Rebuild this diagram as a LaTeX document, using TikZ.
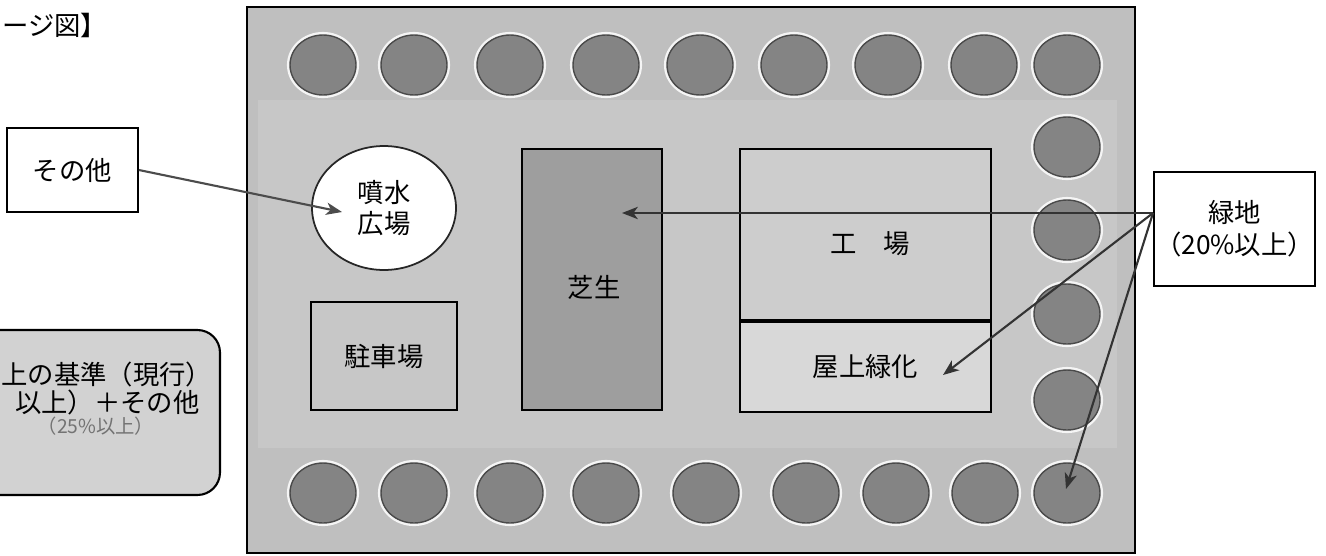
\documentclass[tikz,border=0pt]{standalone}
\usepackage{fontspec}
\setmainfont{Noto Sans CJK JP}
\usetikzlibrary{shapes.geometric,arrows.meta}
\definecolor{outerbg}{HTML}{BFBFBF}
\definecolor{innerbg}{HTML}{C7C7C7}
\definecolor{treefill}{HTML}{848484}
\definecolor{treeedge}{HTML}{4A4A4A}
\definecolor{turffill}{HTML}{9E9E9E}
\definecolor{factfill}{HTML}{CDCDCD}
\definecolor{rooffill}{HTML}{D8D8D8}
\definecolor{notefill}{HTML}{D2D2D2}
\definecolor{arrowc}{HTML}{333333}
\begin{document}
\begin{tikzpicture}[x=0.02cm,y=-0.02cm,
  font=\fontsize{15}{18}\selectfont,
  box/.style={draw=black,line width=1.1pt,inner sep=0pt},
  tree/.style={ellipse,minimum width=1.32cm,minimum height=1.2cm,inner sep=0pt,
    fill=treefill,draw=treeedge,line width=0.8pt,
    preaction={draw=white!92!gray,line width=3.5pt}},
  arr/.style={line width=1.2pt,draw=arrowc,-{Stealth[length=9pt,width=7pt,inset=2.5pt]}},
  txt/.style={inner sep=0pt}]
\clip (0,0) rectangle (1326,555);
\fill[white] (0,0) rectangle (1326,555);
% site
\filldraw[fill=outerbg,draw=black,line width=1pt] (247,7) rectangle (1135,553);
\fill[innerbg] (258,100) rectangle (1117,448);
% trees
\foreach \x [count=\i] in {323,414,510,606,700,794,888,984,1067}
  \node[tree] (top\i) at (\x,65) {};
\foreach \y [count=\i] in {147,230,314,400}
  \node[tree] (right\i) at (1067,\y) {};
\foreach \x [count=\i] in {323,414,510,606,706,806,896,985,1067}
  \node[tree] (bot\i) at (\x,493) {};
% facilities
\node[ellipse,draw=black!85,line width=1pt,fill=white,minimum width=2.88cm,
  minimum height=2.48cm,inner sep=0pt,align=center] (fountain) at (384,208) {噴水\\広場};
\node[box,fill=turffill,minimum width=2.8cm,minimum height=5.22cm] (turf) at (592,279.5) {};
\node[txt] (turflabel) at (594,287) {芝生};
\node[box,fill=innerbg,minimum width=2.92cm,minimum height=2.16cm] (parking) at (384,356) {駐車場};
\node[box,fill=factfill,minimum width=5.02cm,minimum height=3.42cm] (factory) at (865.5,234.5) {};
\node[txt] (factorylabel) at (870,244) {工\quad 場};
\node[box,fill=rooffill,minimum width=5.02cm,minimum height=1.8cm,anchor=north] (roof) at (factory.south) {屋上緑化};
% labels outside
\node[txt,anchor=west] (title) at (2,25) {ージ図】};
\node[draw=black,line width=1pt,fill=white,minimum width=2.62cm,minimum height=1.68cm] (sonota) at (72.5,170) {その他};
\node[box,fill=white,minimum width=3.22cm,minimum height=2.28cm,align=center] (ryokuchi) at (1234.5,229) {緑地\\（20\%以上）};
\node[draw=black,line width=1.2pt,rounded corners=0.45cm,fill=notefill,minimum width=5.6cm,minimum height=3.3cm] (note) at (80,412.5) {};
\node[txt,anchor=west] (note1) at (1,374) {上の基準（現行）};
\node[txt,anchor=east] (note2) at (200,402) {以上）＋その他};
\node[txt,text=black!55,font=\fontsize{11}{13}\selectfont] (note3) at (96,426) {（25\%以上）};
% connectors
\coordinate (fountaintip) at (342,212);
\coordinate (gstart) at (1153,213);
\coordinate (turftip) at (622,213);
\coordinate (rooftip) at (943,375);
\coordinate (treetip) at (1066,489);
\draw[arr,draw=black!70] (sonota.east) -- (fountaintip);
\draw[arr] (gstart) -- (turftip);
\draw[arr] (gstart) -- (rooftip);
\draw[arr] (gstart) -- (treetip);
\end{tikzpicture}
\end{document}
